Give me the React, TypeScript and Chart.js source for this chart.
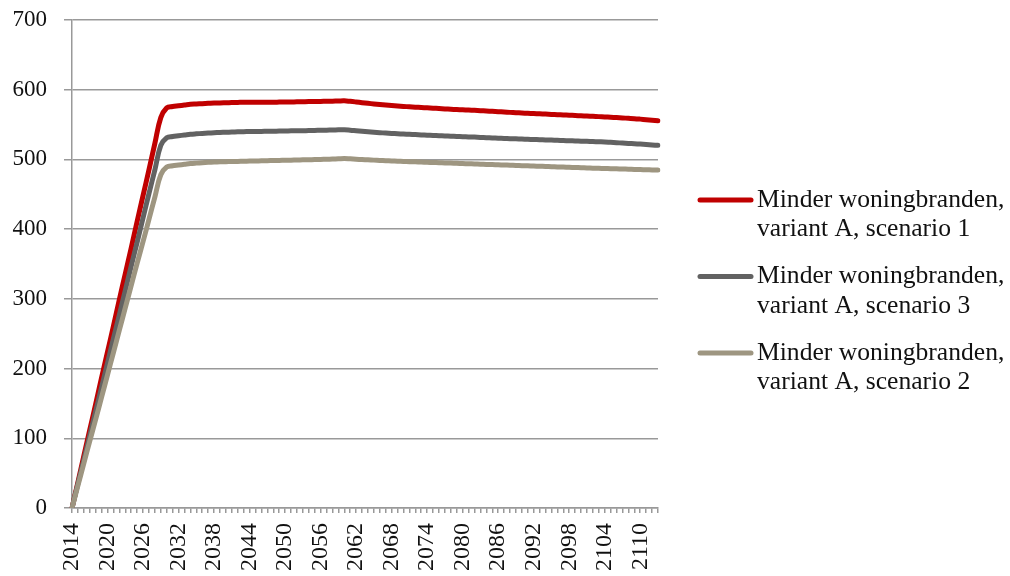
import React, { useEffect, useRef } from "react";
import { Chart, registerables } from "chart.js";

Chart.register(...registerables);

const YEARS = [
  2014, 2015, 2016, 2017, 2018, 2019, 2020, 2021, 2022, 2023,
  2024, 2025, 2026, 2027, 2028, 2029, 2030, 2031, 2032, 2033,
  2034, 2035, 2036, 2037, 2038, 2039, 2040, 2041, 2042, 2043,
  2044, 2045, 2046, 2047, 2048, 2049, 2050, 2051, 2052, 2053,
  2054, 2055, 2056, 2057, 2058, 2059, 2060, 2061, 2062, 2063,
  2064, 2065, 2066, 2067, 2068, 2069, 2070, 2071, 2072, 2073,
  2074, 2075, 2076, 2077, 2078, 2079, 2080, 2081, 2082, 2083,
  2084, 2085, 2086, 2087, 2088, 2089, 2090, 2091, 2092, 2093,
  2094, 2095, 2096, 2097, 2098, 2099, 2100, 2101, 2102, 2103,
  2104, 2105, 2106, 2107, 2108, 2109, 2110, 2111, 2112, 2113,
];

const SCENARIO_1 = [
  0, 37, 75, 112, 149, 187, 224, 261, 299, 336,
  373, 411, 448, 485, 523, 560, 574, 576, 577, 578,
  579, 579.5, 580, 580.5, 581, 581, 581.3, 581.6, 581.8, 582,
  582, 582, 582, 582, 582, 582.2, 582.4, 582.5, 582.6, 582.8,
  583, 583, 583.2, 583.4, 583.6, 583.8, 584, 583.3, 582.4, 581.4,
  580.5, 579.6, 578.8, 578, 577.3, 576.6, 576, 575.5, 575, 574.5,
  574, 573.5, 573, 572.5, 572, 571.6, 571.2, 570.8, 570.4, 570,
  569.5, 569, 568.5, 568, 567.5, 567, 566.6, 566.2, 565.8, 565.4,
  565, 564.6, 564.2, 563.8, 563.4, 563, 562.6, 562.2, 561.8, 561.4,
  561, 560.5, 560, 559.5, 559, 558.5, 557.8, 557, 556.3, 555.5,
];

const SCENARIO_3 = [
  0, 35, 69, 104, 139, 173, 208, 243, 277, 312,
  347, 381, 416, 451, 485, 520, 531, 533, 534, 535,
  536, 536.7, 537.3, 537.8, 538.3, 538.7, 539, 539.3, 539.6, 539.8,
  540, 540.1, 540.2, 540.3, 540.5, 540.6, 540.8, 541, 541.1, 541.2,
  541.4, 541.6, 541.8, 542, 542.2, 542.4, 542.6, 542, 541.2, 540.4,
  539.7, 539, 538.4, 537.8, 537.3, 536.8, 536.4, 536, 535.6, 535.2,
  534.8, 534.4, 534, 533.7, 533.4, 533, 532.7, 532.3, 532, 531.6,
  531.2, 530.8, 530.4, 530.1, 529.8, 529.5, 529.2, 528.9, 528.6, 528.3,
  528, 527.7, 527.4, 527.1, 526.8, 526.5, 526.2, 525.9, 525.6, 525.3,
  525, 524.5, 524, 523.5, 523, 522.5, 522, 521.4, 520.8, 520.2,
];

const SCENARIO_2 = [
  0, 32, 64, 96, 127, 159, 191, 223, 255, 287,
  319, 351, 382, 414, 446, 478, 489, 491, 492, 493,
  494, 494.7, 495.3, 495.8, 496.2, 496.5, 496.8, 497, 497.2, 497.4,
  497.6, 497.8, 498, 498.2, 498.4, 498.6, 498.8, 499, 499.2, 499.4,
  499.6, 499.8, 500, 500.2, 500.5, 500.8, 501.2, 500.8, 500.3, 499.8,
  499.4, 499, 498.6, 498.2, 497.8, 497.4, 497.1, 496.8, 496.5, 496.2,
  495.9, 495.6, 495.3, 495, 494.7, 494.4, 494.1, 493.8, 493.5, 493.2,
  492.9, 492.6, 492.3, 492, 491.7, 491.4, 491.1, 490.8, 490.5, 490.2,
  489.9, 489.6, 489.3, 489, 488.7, 488.4, 488.1, 487.8, 487.5, 487.2,
  487, 486.7, 486.5, 486.2, 486, 485.7, 485.5, 485.2, 485, 484.7,
];

const SERIES_LABELS = [
  ["Minder woningbranden,", "variant A, scenario 1"],
  ["Minder woningbranden,", "variant A, scenario 3"],
  ["Minder woningbranden,", "variant A, scenario 2"],
];
const SERIES_COLORS = ["#c00000", "#626262", "#9e9681"];
const Y_TICKS = [0, 100, 200, 300, 400, 500, 600, 700];
const LABEL_EVERY = 6;

const FONT = "'Liberation Serif', 'Times New Roman', serif";
const GRID = "#999999";

const legendPlugin = {
  id: "sideLegend",
  afterDraw(chart: any) {
    const ctx = chart.ctx;
    const datasets = chart.data.datasets;
    const startY = 200;
    const itemGap = 76.5;
    const lineGap = 29.5;
    ctx.save();
    ctx.font = `25.6px ${FONT}`;
    ctx.textBaseline = "middle";
    ctx.textAlign = "left";
    datasets.forEach((ds: any, i: number) => {
      const y = startY + i * itemGap;
      ctx.strokeStyle = ds.borderColor;
      ctx.lineWidth = 5;
      ctx.lineCap = "round";
      ctx.beginPath();
      ctx.moveTo(700, y);
      ctx.lineTo(751, y);
      ctx.stroke();
      ctx.fillStyle = "#111";
      const lines = SERIES_LABELS[i];
      lines.forEach((t, j) => ctx.fillText(t, 757, y + j * lineGap));
    });
    ctx.restore();
  },
};

export default function App() {
  const ref = useRef<HTMLCanvasElement | null>(null);
  useEffect(() => {
    if (!ref.current) return;
    const data = [SCENARIO_1, SCENARIO_3, SCENARIO_2];
    const chart = new Chart(ref.current, {
      type: "line",
      data: {
        labels: YEARS,
        datasets: data.map((d, i) => ({
          label: SERIES_LABELS[i].join(" "),
          data: d,
          borderColor: SERIES_COLORS[i],
          backgroundColor: SERIES_COLORS[i],
          borderWidth: 5,
          pointRadius: 0,
          borderCapStyle: "round",
          borderJoinStyle: "round",
          tension: 0.4,
          order: 2 - i,
        })),
      },
      options: {
        animation: false,
        responsive: false,
        devicePixelRatio: 1,
        layout: { padding: { left: 0, top: 20, right: 352, bottom: 0 } },
        plugins: { legend: { display: false }, tooltip: { enabled: false } },
        scales: {
          x: {
            offset: false,
            grid: {
              display: true,
              drawOnChartArea: false,
              drawTicks: true,
              tickLength: 5,
              color: GRID,
              lineWidth: 1.5,
            },
            border: { display: true, color: GRID, width: 1.5 },
            ticks: {
              autoSkip: false,
              minRotation: 90,
              maxRotation: 90,
              padding: 10,
              color: "#111",
              font: { family: FONT, size: 24 },
              callback: (_v: any, idx: number) =>
                idx % LABEL_EVERY === 0 ? String(YEARS[idx]) : "",
            },
            afterFit: (s: any) => {
              s.height = 68;
              s.paddingTop = 0;
              s.paddingBottom = 0;
            },
          },
          y: {
            min: Y_TICKS[0],
            max: Y_TICKS[Y_TICKS.length - 1],
            grid: {
              color: GRID,
              lineWidth: 1.5,
              drawTicks: true,
              tickLength: 8,
            },
            border: { display: true, color: GRID, width: 1.5 },
            afterBuildTicks: (s: any) => {
              s.ticks = Y_TICKS.map((v) => ({ value: v }));
            },
            ticks: {
              padding: 17,
              color: "#111",
              font: { family: FONT, size: 23 },
            },
            afterFit: (s: any) => {
              s.width = 72;
              s.paddingTop = 0;
              s.paddingBottom = 0;
            },
          },
        },
      },
      plugins: [legendPlugin],
    });
    return () => chart.destroy();
  }, []);
  return (
    <div style={{ position: "absolute", left: 0, top: 0, width: 1010, height: 576, background: "#fff" }}>
      <canvas ref={ref} width={1010} height={576} />
    </div>
  );
}
